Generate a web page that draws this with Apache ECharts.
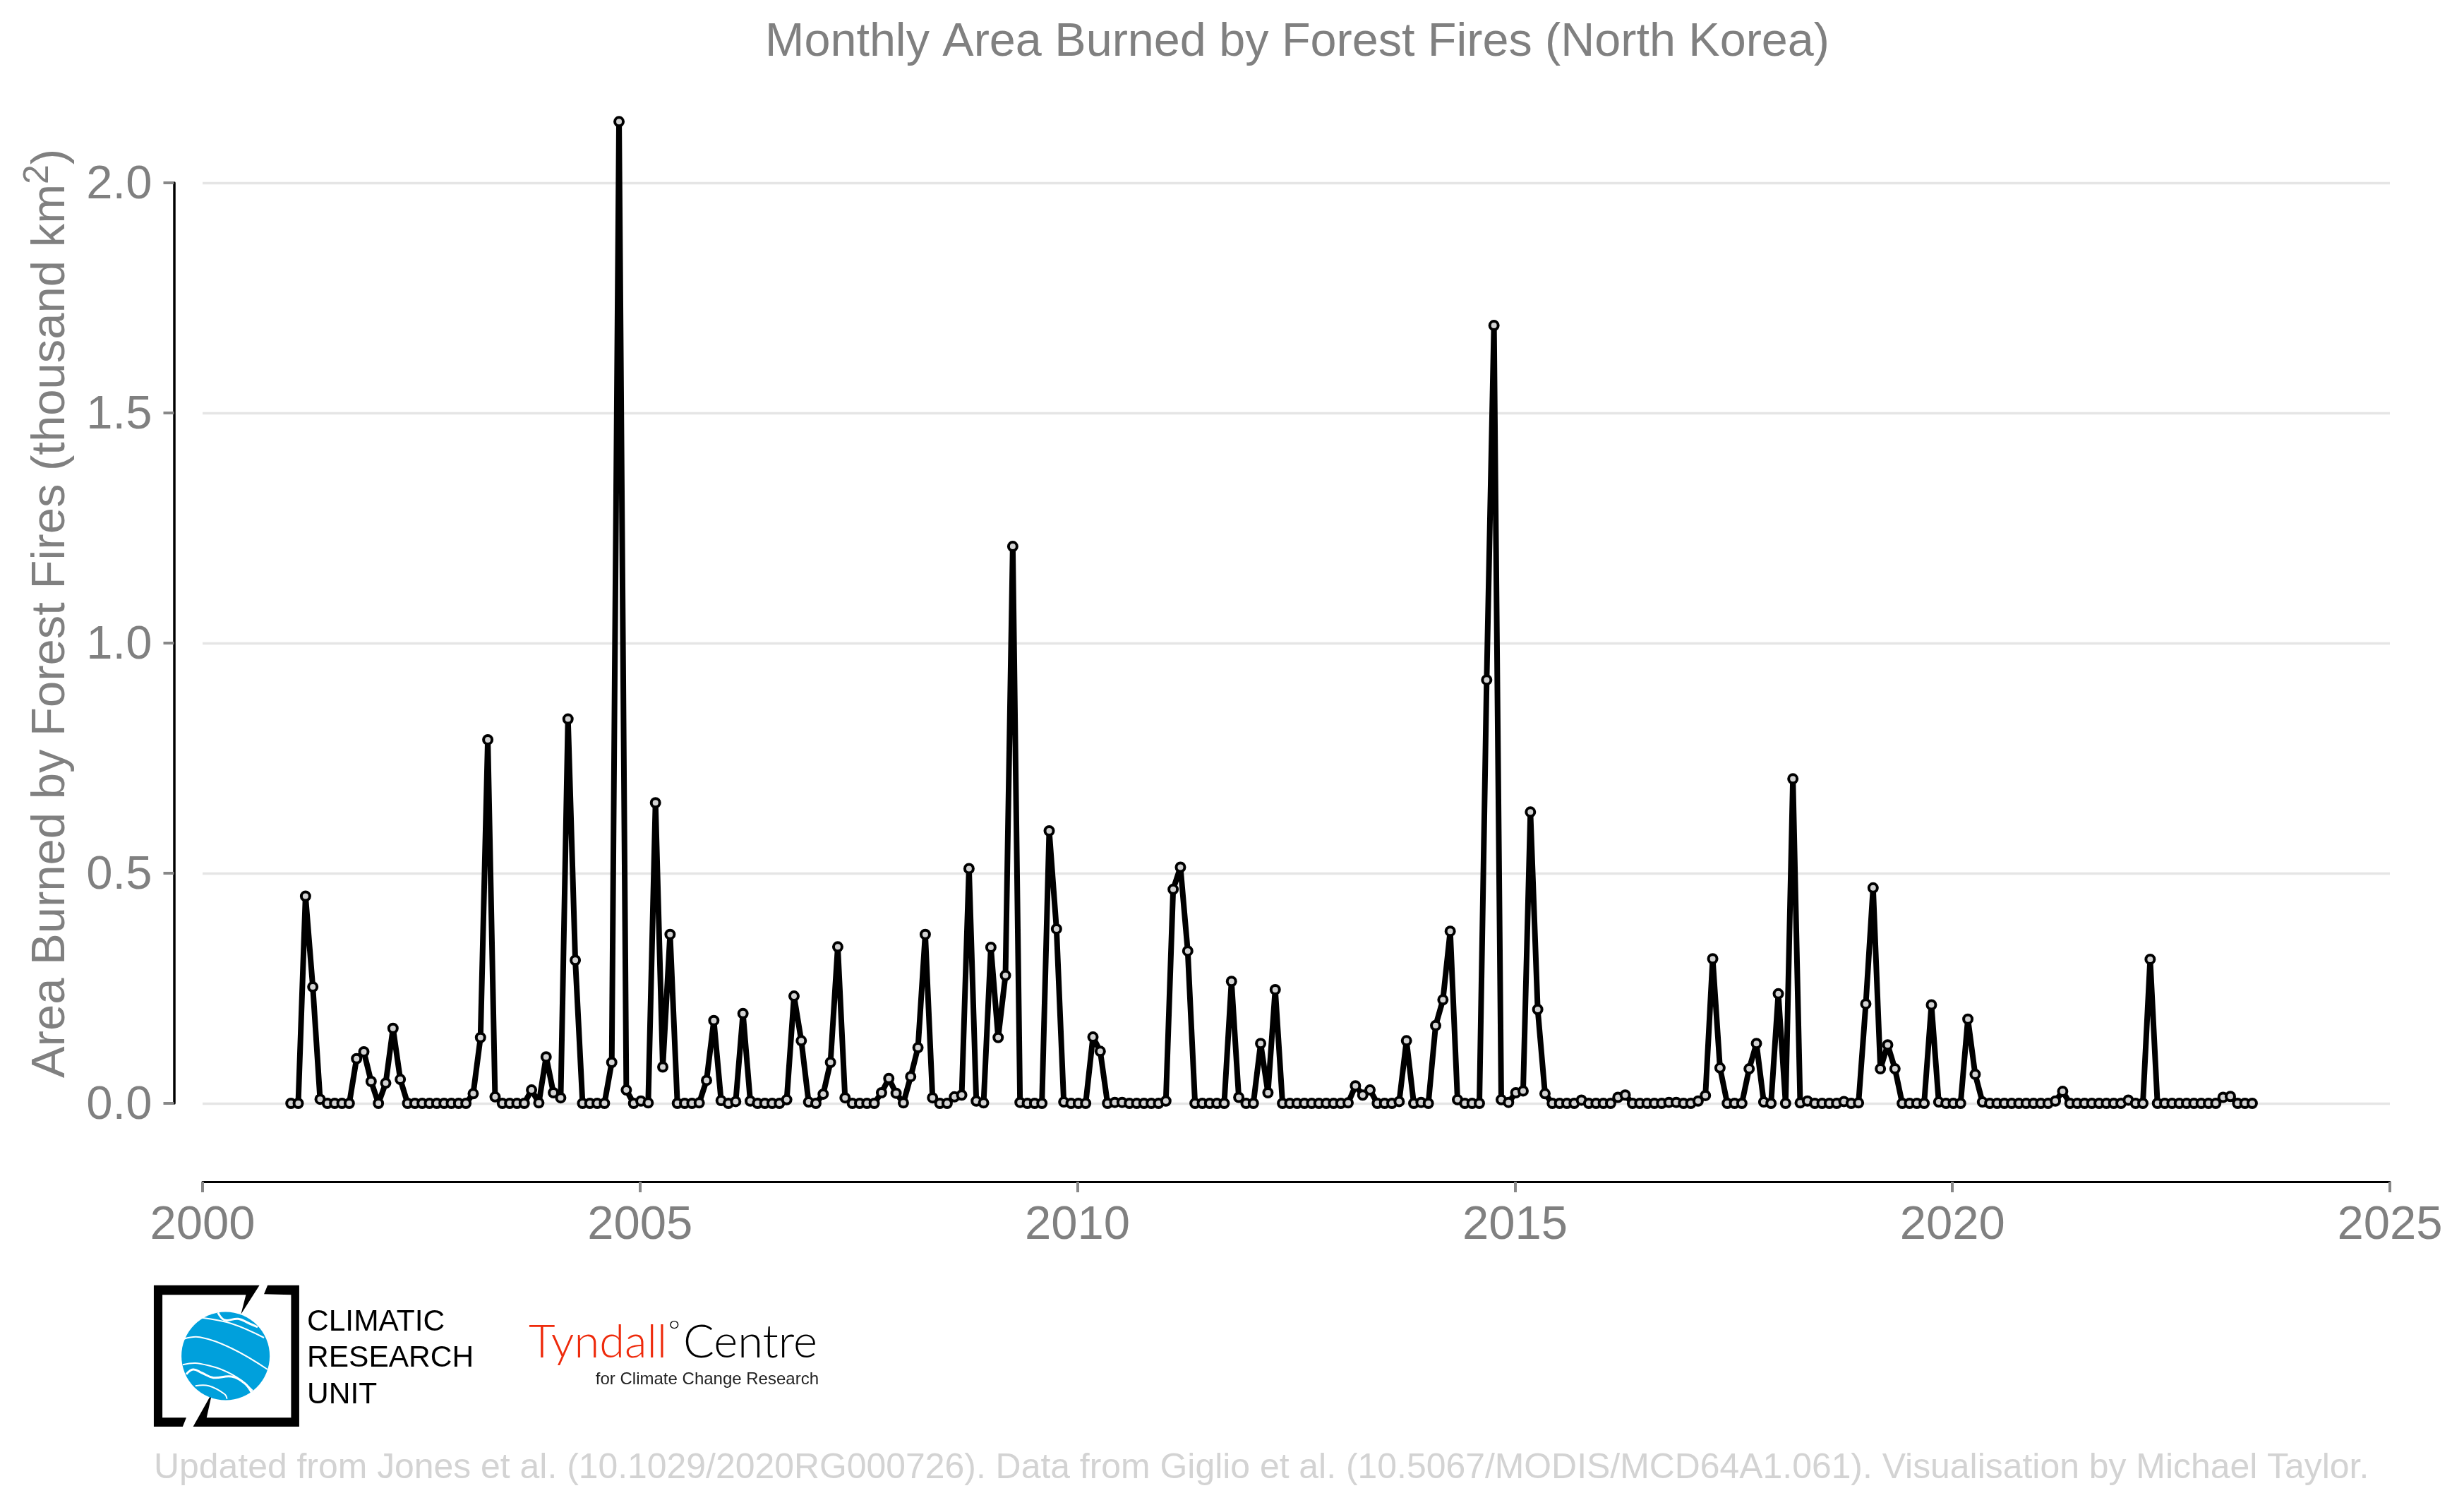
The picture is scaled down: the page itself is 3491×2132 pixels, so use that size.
<!DOCTYPE html>
<html>
<head>
<meta charset="utf-8">
<style>html,body{margin:0;padding:0;background:#fff}#c{width:3491px;height:2132px}</style>
<script src="https://cdn.jsdelivr.net/npm/echarts@6/dist/echarts.min.js"></script>
</head>
<body>
<div id="c"></div>
<script>
var titleText = 'Monthly Area Burned by Forest Fires (North Korea)';
var yTitle = 'Area Burned by Forest Fires (thousand km';
var footerText = 'Updated from Jones et al. (10.1029/2020RG000726). Data from Giglio et al. (10.5067/MODIS/MCD64A1.061). Visualisation by Michael Taylor.';
var startYear = 2001;
var area2001 = [0,0,0.45,0.253,0.009,0,0,0,0,0.097,0.112,0.0475];
var area2002 = [0,0.044,0.163,0.052,0,0,0,0,0,0,0,0];
var area2003 = [0,0.021,0.143,0.79,0.014,0,0,0,0,0.029,0.001,0.101];
var area2004 = [0.023,0.012,0.835,0.311,0,0,0,0,0.089,2.133,0.029,0];
var area2005 = [0.005,0.001,0.653,0.079,0.367,0,0,0,0.001,0.05,0.18,0.006];
var area2006 = [0,0.004,0.195,0.005,0,0,0,0,0.008,0.233,0.136,0.003];
var area2007 = [0,0.02,0.089,0.34,0.012,0,0,0,0,0.023,0.054,0.022];
var area2008 = [0.001,0.058,0.121,0.367,0.012,0,0,0.014,0.018,0.51,0.005,0.001];
var area2009 = [0.339,0.143,0.278,1.21,0.002,0,0,0,0.592,0.379,0.003,0];
var area2010 = [0,0,0.144,0.113,0,0.002,0.002,0,0,0,0,0];
var area2011 = [0.005,0.465,0.513,0.331,0,0,0,0,0,0.265,0.013,0];
var area2012 = [0,0.13,0.023,0.247,0,0,0,0,0,0,0,0];
var area2013 = [0,0.001,0.038,0.018,0.029,0,0,0,0.004,0.136,0,0.002];
var area2014 = [0,0.169,0.225,0.374,0.008,0,0,0,0.92,1.69,0.008,0.002];
var area2015 = [0.023,0.027,0.633,0.204,0.021,0,0,0,0,0.007,0,0];
var area2016 = [0,0,0.013,0.018,0,0,0,0,0,0.002,0.002,0];
var area2017 = [0,0.005,0.017,0.314,0.077,0,0,0,0.075,0.13,0.003,0];
var area2018 = [0.238,0,0.705,0.001,0.005,0,0,0,0,0.004,0,0.001];
var area2019 = [0.216,0.468,0.075,0.127,0.075,0,0,0,0,0.214,0.003,0];
var area2020 = [0,0,0.183,0.063,0.003,0,0,0,0,0,0,0];
var area2021 = [0,0,0.005,0.026,0,0,0,0,0,0,0,0];
var area2022 = [0.007,0,0,0.313,0,0,0,0,0,0,0,0];
var area2023 = [0,0.013,0.015,0,0,0];
var yTicksMax = 2, yInterval = 0.5, xMin = 2000, xMax = 2025, xInterval = 5;

var years = [area2001,area2002,area2003,area2004,area2005,area2006,area2007,area2008,area2009,area2010,area2011,area2012,area2013,area2014,area2015,area2016,area2017,area2018,area2019,area2020,area2021,area2022,area2023];
var seriesData = [];
years.forEach(function(arr, y){
  arr.forEach(function(v, m){ seriesData.push([startYear + y + m/12 + 0.01, v]); });
});

var GREY = '#808080';
var FONT = '"Liberation Sans", Arial, sans-serif';
function zx(x){return 200 + x/1.563;}
function zy(y){return 1800 + y/3;}
function pts(a){return a.map(function(p){return [zx(p[0]), zy(p[1])];});}
function curve(a, w){
  return {type:'polyline', z:20, shape:{points:pts(a), smooth:0.4}, style:{stroke:'#fff', lineWidth:w, fill:null}, silent:true};
}
function txt(s, x, y, size, fill, weight, family, align){
  return {type:'text', z:20, x:x, y:y, silent:true, style:{text:s, fontSize:size, fontFamily:family||FONT, fontWeight:weight||'normal', fill:fill, align:align||'left', verticalAlign:'middle'}};
}

var chart = echarts.init(document.getElementById('c'), null, {renderer:'canvas', width:3491, height:2132});
chart.setOption({
  backgroundColor:'#ffffff',
  animation:false,
  title:{text:titleText, left:1833, top:22, textAlign:'center', textStyle:{color:GREY, fontSize:66.5, fontWeight:'normal', fontFamily:FONT}},
  grid:{left:287, right:105, top:259, bottom:569, containLabel:false, outerBoundsMode:'none'},
  xAxis:{type:'value', min:xMin, max:xMax, interval:xInterval, offset:111,
    axisLine:{onZero:false, lineStyle:{color:'#000', width:3}},
    axisTick:{length:15, lineStyle:{color:'#888', width:4}},
    axisLabel:{color:GREY, fontSize:67, fontFamily:FONT, margin:29, formatter:function(v){return String(v);}, showMinLabel:true, showMaxLabel:true},
    splitLine:{show:false}},
  yAxis:{type:'value', min:0, max:yTicksMax, interval:yInterval, offset:40.5,
    axisLine:{show:true, onZero:false, lineStyle:{color:'#000', width:3.5}},
    axisTick:{show:true, length:15, lineStyle:{color:'#888', width:4}},
    axisLabel:{color:GREY, fontSize:67, fontFamily:FONT, margin:31,
      formatter:function(v){return '{v|'+v.toFixed(1)+'}';},
      rich:{v:{color:GREY, fontSize:67, fontFamily:FONT, padding:[8,0,0,0]}}},
    splitLine:{show:true, lineStyle:{color:'#e5e5e5', width:3.3}},
    name:'{a|'+yTitle+'}{s|2}{a|)}', nameLocation:'middle', nameRotate:90, nameGap:131,
    nameTextStyle:{padding:[0,0,0,84], rich:{
      a:{fontSize:67, color:GREY, fontFamily:FONT},
      s:{fontSize:50, color:GREY, fontFamily:FONT, padding:[0,0,36,0]}
    }}},
  series:[{type:'line', data:seriesData, clip:false, showAllSymbol:true, symbol:'circle', symbolSize:12,
    lineStyle:{color:'#000', width:8, join:'round'},
    itemStyle:{color:'#d3d3d3', borderColor:'#000', borderWidth:4}, z:5}],
  graphic:{elements:[
    {type:'polygon', z:20, silent:true, shape:{points:pts([[28,62],[262,62],[221,185],[232,103],[47,103],[47,625],[100,625],[92,663],[28,663]])}, style:{fill:'#000'}},
    {type:'polygon', z:20, silent:true, shape:{points:pts([[280,62],[350,62],[350,663],[115,663],[157,520],[145,625],[332,625],[332,103],[272,100]])}, style:{fill:'#000'}},
    {type:'circle', z:20, silent:true, shape:{cx:319.6, cy:1921, r:62.5}, style:{fill:'#00a0dc'}},
    curve([[135,200],[200,225],[272,285]],2),
    curve([[95,290],[130,283],[200,330],[280,420]],2),
    curve([[92,400],[130,395],[200,440],[247,510]],2),
    curve([[100,440],[115,420],[135,435],[160,455],[200,450],[230,480],[245,520]],3),
    curve([[170,178],[185,210],[215,205],[240,225],[258,240]],3),
    curve([[120,490],[150,490],[185,525],[190,545]],2),
    txt('CLIMATIC',435,1873,42.5,'#000'),
    txt('RESEARCH',435,1924,42.5,'#000'),
    txt('UNIT',435,1976,42.5,'#000'),
    txt('Tyndall',749,1902,65,'#ee2a0b','300','Lato'),
    txt('\u00b0',947,1886,40,'#000','300','Lato'),
    txt('Centre',968,1902,65,'#000','300','Lato'),
    txt('for Climate Change Research',1160,1954,24,'#222','normal',FONT,'right'),
    txt(footerText,218,2080,49.9,'#d3d3d3')
  ]}
});
</script>
</body>
</html>
